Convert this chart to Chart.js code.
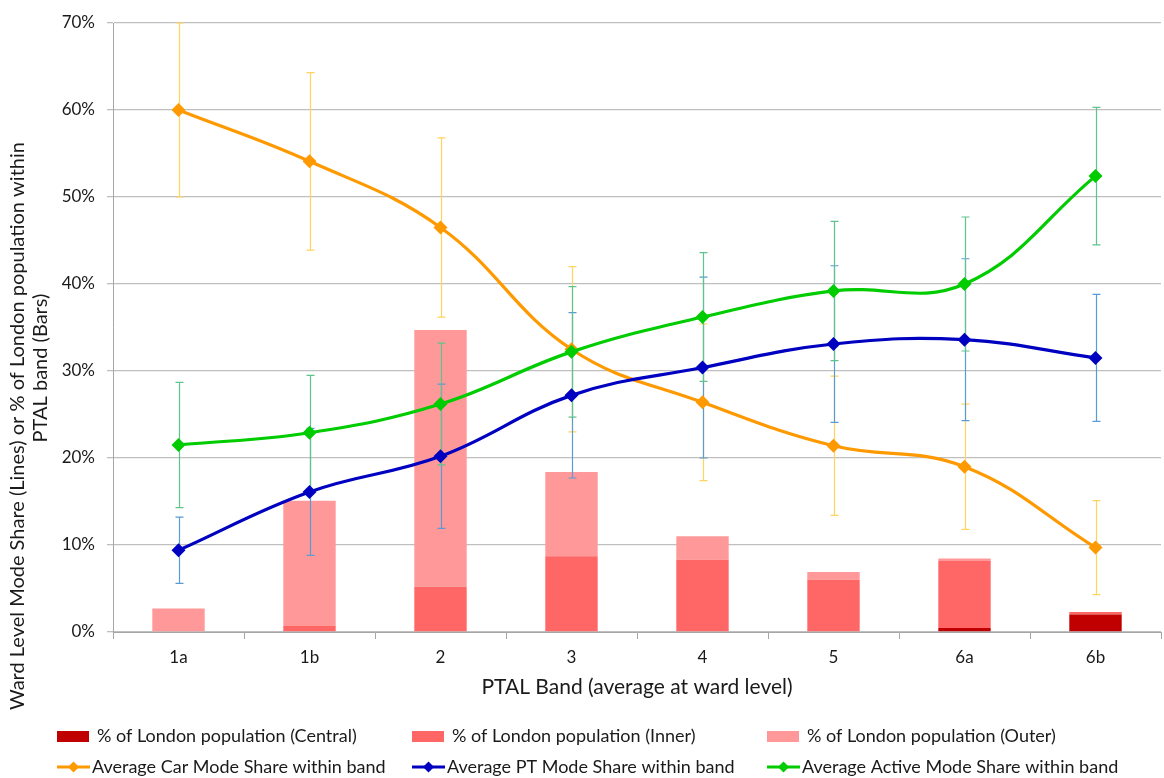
<!DOCTYPE html>
<html>
<head>
<meta charset="utf-8">
<title>PTAL Band mode share</title>
<script src="https://cdn.jsdelivr.net/npm/chart.js@4.4.1/dist/chart.umd.min.js"></script>
<style>
    html, body { margin: 0; padding: 0; background: #fff; overflow: hidden; }
    #chart { display: block; }
</style>
</head>
<body>
<canvas id="chart" width="1168" height="778"></canvas>
<script>
// Chart Data
const bands = ['1a', '1b', '2', '3', '4', '5', '6a', '6b'];

// population bars (stacked segments, % of London population)
const popCentral = [0, 0, 0, 0, 0, 0, 0.46, 2.0];
const popInner = [0, 0.7, 5.2, 8.7, 8.3, 6.0, 7.7, 0.3];
const popOuter = [2.7, 14.4, 29.5, 9.7, 2.7, 0.9, 0.3, 0];

// mode share lines and their error bars
const carShare = [60.0, 54.1, 46.5, 32.5, 26.4, 21.4, 19.0, 9.7];
const carErr = [10.0, 10.2, 10.3, 9.5, 9.0, 8.0, 7.2, 5.4];
const ptShare = [9.4, 16.1, 20.2, 27.2, 30.4, 33.1, 33.6, 31.5];
const ptErr = [3.8, 7.3, 8.3, 9.5, 10.4, 9.0, 9.3, 7.3];
const activeShare = [21.5, 22.9, 26.2, 32.2, 36.2, 39.2, 40.0, 52.4];
const activeErr = [7.2, 6.6, 7.0, 7.5, 7.4, 8.0, 7.7, 7.9];

const yTicks = [0, 10, 20, 30, 40, 50, 60, 70];

const FONT = 'Lato, "Noto Sans", sans-serif';
const TEXT = '#1a1a1a';

// Error bars, drawn after the bars but before the lines
const errorBarsPlugin = {
    id: 'errorBars',
    beforeDatasetsDraw(chart) {
        chart.$errDone = false;
    },
    beforeDatasetDraw(chart, args) {
        if (args.meta.type !== 'line' || chart.$errDone) return;
        chart.$errDone = true;
        const ctx = chart.ctx;
        const x = chart.scales.x;
        const y = chart.scales.y;
        ctx.save();
        chart.data.datasets.forEach(ds => {
            if (!ds.errors) return;
            ctx.strokeStyle = ds.errorColor;
            ctx.lineWidth = 1.2;
            ds.data.forEach((v, i) => {
                const px = Math.round(x.getPixelForValue(i)) + 0.5;
                const top = y.getPixelForValue(v + ds.errors[i]);
                const bot = y.getPixelForValue(v - ds.errors[i]);
                ctx.beginPath();
                ctx.moveTo(px, top);
                ctx.lineTo(px, bot);
                ctx.moveTo(px - 4, top);
                ctx.lineTo(px + 4, top);
                ctx.moveTo(px - 4, bot);
                ctx.lineTo(px + 4, bot);
                ctx.stroke();
            });
        });
        ctx.restore();
    }
};

// Axis titles and legend
const labelsPlugin = {
    id: 'labels',
    afterDraw(chart) {
        const ctx = chart.ctx;
        const area = chart.chartArea;
        ctx.save();
        ctx.fillStyle = TEXT;
        ctx.textAlign = 'center';
        ctx.textBaseline = 'middle';

        // x title
        ctx.font = '21px ' + FONT;
        ctx.fillText('PTAL Band (average at ward level)', (area.left + area.right) / 2, 687);

        // y title, two lines
        ctx.font = '20px ' + FONT;
        ctx.save();
        ctx.translate(18, 426);
        ctx.rotate(-Math.PI / 2);
        ctx.fillText('Ward Level Mode Share (Lines) or % of London population within', 0, 0);
        ctx.restore();
        ctx.save();
        ctx.translate(41, 368);
        ctx.rotate(-Math.PI / 2);
        ctx.fillText('PTAL band (Bars)', 0, 0);
        ctx.restore();

        // legend
        const cols = [57, 412, 767];
        ctx.font = '18px ' + FONT;
        ctx.textAlign = 'left';
        const ds = chart.data.datasets;
        [0, 1, 2].forEach(i => {
            ctx.fillStyle = ds[i].backgroundColor;
            ctx.fillRect(cols[i], 731, 32, 11);
            ctx.fillStyle = TEXT;
            ctx.fillText(ds[i].label, cols[i] + 40, 736);
        });
        [3, 4, 5].forEach((i, k) => {
            const x0 = cols[k];
            ctx.strokeStyle = ds[i].borderColor;
            ctx.lineWidth = 3;
            ctx.beginPath();
            ctx.moveTo(x0, 767);
            ctx.lineTo(x0 + 33, 767);
            ctx.stroke();
            ctx.fillStyle = ds[i].borderColor;
            ctx.beginPath();
            ctx.moveTo(x0 + 16.5, 761.5);
            ctx.lineTo(x0 + 22, 767);
            ctx.lineTo(x0 + 16.5, 772.5);
            ctx.lineTo(x0 + 11, 767);
            ctx.closePath();
            ctx.fill();
            ctx.fillStyle = TEXT;
            ctx.fillText(ds[i].label, x0 + 35, 767);
        });
        ctx.restore();
    }
};

function lineDataset(label, data, errors, color, errorColor, order) {
    return {
        type: 'line',
        label: label,
        data: data,
        errors: errors,
        errorColor: errorColor,
        stack: label,
        order: order,
        borderColor: color,
        backgroundColor: color,
        borderWidth: 3.2,
        tension: 0.4,
        pointStyle: 'rectRot',
        pointRadius: 7,
        pointHoverRadius: 7,
        pointBorderWidth: 0,
        fill: false
    };
}

function barDataset(label, data, color) {
    return {
        type: 'bar',
        label: label,
        data: data,
        stack: 'population',
        order: 10,
        backgroundColor: color,
        borderWidth: 0,
        barPercentage: 0.4,
        categoryPercentage: 1.0
    };
}

const chart = new Chart(document.getElementById('chart'), {
    data: {
        labels: bands,
        datasets: [
            barDataset('% of London population (Central)', popCentral, '#C00000'),
            barDataset('% of London population (Inner)', popInner, '#FF6666'),
            barDataset('% of London population (Outer)', popOuter, '#FF9999'),
            lineDataset('Average Car Mode Share within band', carShare, carErr, '#FF9900', '#FFD45E', 3),
            lineDataset('Average PT Mode Share within band', ptShare, ptErr, '#0000C0', '#5B9BD5', 2),
            lineDataset('Average Active Mode Share within band', activeShare, activeErr, '#00CC00', '#5EC48C', 1)
        ]
    },
    options: {
        responsive: false,
        animation: false,
        layout: { padding: { top: 23, right: 0, bottom: 0, left: 0 } },
        plugins: {
            legend: { display: false },
            tooltip: { enabled: false }
        },
        scales: {
            x: {
                stacked: true,
                offset: true,
                grid: {
                    offset: true,
                    drawOnChartArea: false,
                    tickLength: 7,
                    color: '#A6A6A6'
                },
                border: { color: '#A6A6A6', width: 1 },
                ticks: {
                    color: TEXT,
                    font: { family: FONT, size: 17 },
                    padding: 8,
                    maxRotation: 0
                },
                afterFit(scale) { scale.height = 146; }
            },
            y: {
                stacked: true,
                min: 0,
                max: 70,
                afterBuildTicks(scale) {
                    scale.ticks = yTicks.map(v => ({ value: v }));
                },
                grid: {
                    color: '#BFBFBF',
                    lineWidth: 1.3,
                    tickLength: 6
                },
                border: { color: '#A6A6A6', width: 1 },
                ticks: {
                    color: TEXT,
                    font: { family: FONT, size: 17 },
                    padding: 12,
                    callback: v => v + '%'
                },
                afterFit(scale) { scale.width = 113; }
            }
        }
    },
    plugins: [errorBarsPlugin, labelsPlugin]
});
</script>
</body>
</html>
